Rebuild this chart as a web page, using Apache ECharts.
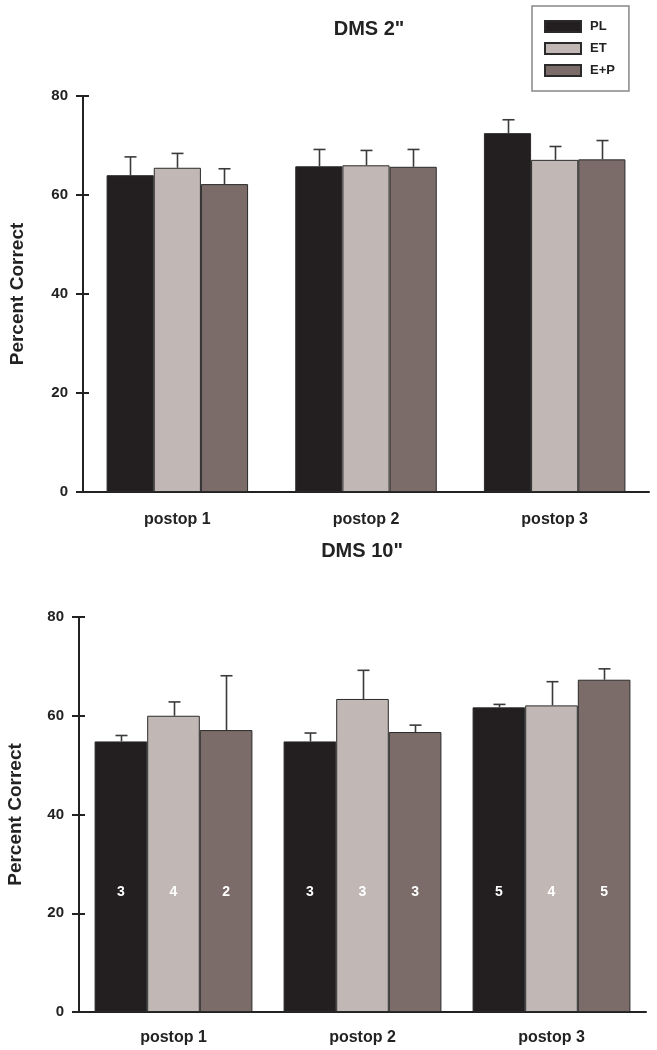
<!DOCTYPE html>
<html>
<head>
<meta charset="utf-8">
<script src="https://cdn.jsdelivr.net/npm/echarts@6/dist/echarts.min.js"></script>
<style>html,body{margin:0;padding:0;background:#fff}#c{width:657px;height:1050px}</style>
</head>
<body>
<div id="c"></div>
<script>
const categories = ['postop 1', 'postop 2', 'postop 3'];
const seriesNames = ['PL', 'ET', 'E+P'];
const yTicks = [0, 20, 40, 60, 80];

// DMS 2" (top panel): means and top of error bars
const dms2PL = [64.0, 65.8, 72.5];
const dms2ET = [65.5, 66.0, 67.1];
const dms2EP = [62.2, 65.7, 67.2];
const dms2PLerr = [67.7, 69.2, 75.2];
const dms2ETerr = [68.4, 69.0, 69.8];
const dms2EPerr = [65.3, 69.2, 71.0];

// DMS 10" (bottom panel)
const dms10PL = [54.8, 54.8, 61.7];
const dms10ET = [60.0, 63.4, 62.1];
const dms10EP = [57.1, 56.7, 67.3];
const dms10PLerr = [56.0, 56.5, 62.3];
const dms10ETerr = [62.8, 69.2, 66.9];
const dms10EPerr = [68.1, 58.1, 69.5];
const dms10PLn = [3, 3, 5];
const dms10ETn = [4, 3, 4];
const dms10EPn = [2, 3, 5];

const colors = ['#231f20', '#c1b7b4', '#7b6c69'];
const FONT = 'Liberation Sans';

function errSeries(gridIdx, k, means, tops, catGap) {
  return {
    type: 'custom',
    xAxisIndex: gridIdx, yAxisIndex: gridIdx * 2,
    z: 1,
    silent: true,
    data: means.map((m, i) => [i, m, tops[i]]),
    renderItem: function (params, api) {
      const band = api.size([1, 0])[0];
      const bw = band * (1 - catGap) / 3;
      const base = api.coord([api.value(0), api.value(1)]);
      const top = api.coord([api.value(0), api.value(2)]);
      const x = Math.round(base[0] + (k - 1) * bw) + 0.5;
      const cap = 6;
      const st = { stroke: '#3a3a3a', lineWidth: 1.6 };
      return {
        type: 'group',
        children: [
          { type: 'line', shape: { x1: x, y1: base[1], x2: x, y2: top[1] }, style: st },
          { type: 'line', shape: { x1: x - cap, y1: top[1], x2: x + cap, y2: top[1] }, style: st }
        ]
      };
    }
  };
}

function barSeries(gridIdx, k, vals, catGap, ns) {
  const s = {
    name: seriesNames[k],
    type: 'bar',
    xAxisIndex: gridIdx, yAxisIndex: gridIdx * 2,
    data: vals,
    barGap: '0%',
    barCategoryGap: (catGap * 100) + '%',
    z: 2,
    itemStyle: { color: colors[k], borderColor: '#2a2a2a', borderWidth: 1 }
  };
  if (ns) {
    s.label = {
      show: true, position: 'insideBottom', distance: 113,
      color: '#ffffff', fontFamily: FONT, fontWeight: 'bold', fontSize: 14,
      formatter: p => String(ns[p.dataIndex])
    };
  }
  return s;
}

const grids = [
  { left: 83, width: 566, top: 96, height: 396, outerBoundsMode: 'none', containLabel: false },
  { left: 79, width: 567, top: 617, height: 395, outerBoundsMode: 'none', containLabel: false }
];
const gaps = [0.25, 0.165];

function yAxes(gi, nameGap) {
  const main = {
    type: 'value', gridIndex: gi, min: 0, max: 80, interval: 20, position: 'left',
    axisLine: { show: true, lineStyle: { color: '#222', width: 2 } },
    axisTick: { show: true, length: 7, lineStyle: { color: '#222', width: 2 } },
    splitLine: { show: false },
    axisLabel: { margin: 15, color: '#222', fontFamily: FONT, fontWeight: 'bold', fontSize: 15,
      formatter: v => yTicks.includes(v) ? String(v) : '' },
    name: 'Percent Correct', nameLocation: 'middle', nameGap: nameGap, nameRotate: 90,
    nameTextStyle: { color: '#222', fontFamily: FONT, fontWeight: 'bold', fontSize: 19 }
  };
  // second axis placed on the y-axis line so its ticks point into the plot (cross ticks)
  const inner = {
    type: 'value', gridIndex: gi, min: 0, max: 80, interval: 20, position: 'right',
    offset: -grids[gi].width,
    axisLine: { show: true, lineStyle: { color: '#222', width: 2 } },
    axisTick: { show: true, inside: false, length: 6, lineStyle: { color: '#222', width: 2 } },
    axisLabel: { show: false }, splitLine: { show: false }
  };
  return [main, inner];
}

function xAxis(gi, margin) {
  return {
    type: 'category', gridIndex: gi, data: categories,
    axisLine: { show: true, lineStyle: { color: '#222', width: 2 } },
    axisTick: { show: false },
    axisLabel: { margin: margin, color: '#222', fontFamily: FONT, fontWeight: 'bold', fontSize: 16 }
  };
}

const option = {
  animation: false,
  backgroundColor: '#fff',
  title: [
    { text: 'DMS 2"', left: 364, top: 14, textAlign: 'center',
      textStyle: { color: '#222', fontFamily: FONT, fontWeight: 'bold', fontSize: 20 } },
    { text: 'DMS 10"', left: 357, top: 536, textAlign: 'center',
      textStyle: { color: '#222', fontFamily: FONT, fontWeight: 'bold', fontSize: 20 } }
  ],
  legend: {
    data: seriesNames,
    orient: 'vertical', left: 532, top: 6,
    itemWidth: 36, itemHeight: 11, itemGap: 9,
    padding: [14, 14, 14, 12],
    borderColor: '#888', borderWidth: 1.5,
    icon: 'rect',
    selectedMode: false,
    textStyle: { color: '#222', fontFamily: FONT, fontWeight: 'bold', fontSize: 13, padding: [0, 0, 0, 4] }
  },
  grid: grids,
  xAxis: [xAxis(0, 20), xAxis(1, 18)],
  yAxis: [...yAxes(0, 56), ...yAxes(1, 54)],
  series: [
    barSeries(0, 0, dms2PL, gaps[0]),
    barSeries(0, 1, dms2ET, gaps[0]),
    barSeries(0, 2, dms2EP, gaps[0]),
    errSeries(0, 0, dms2PL, dms2PLerr, gaps[0]),
    errSeries(0, 1, dms2ET, dms2ETerr, gaps[0]),
    errSeries(0, 2, dms2EP, dms2EPerr, gaps[0]),
    barSeries(1, 0, dms10PL, gaps[1], dms10PLn),
    barSeries(1, 1, dms10ET, gaps[1], dms10ETn),
    barSeries(1, 2, dms10EP, gaps[1], dms10EPn),
    errSeries(1, 0, dms10PL, dms10PLerr, gaps[1]),
    errSeries(1, 1, dms10ET, dms10ETerr, gaps[1]),
    errSeries(1, 2, dms10EP, dms10EPerr, gaps[1])
  ]
};

const chart = echarts.init(document.getElementById('c'), null, { renderer: 'canvas' });
chart.setOption(option);
</script>
</body>
</html>
